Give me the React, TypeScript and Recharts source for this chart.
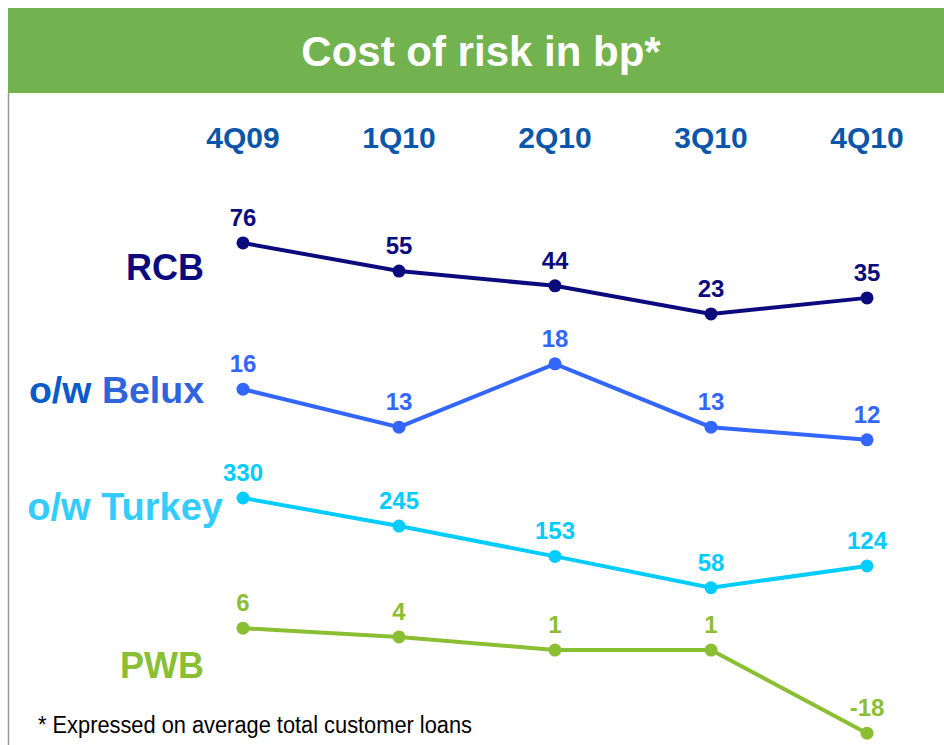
import { LineChart, Line, XAxis, YAxis, LabelList } from 'recharts';

const quarters = ['4Q09', '1Q10', '2Q10', '3Q10', '4Q10'];
const rcb = [76, 55, 44, 23, 35];
const belux = [16, 13, 18, 13, 12];
const turkey = [330, 245, 153, 58, 124];
const pwb = [6, 4, 1, 1, -18];

const data = quarters.map((q, i) => ({
  q,
  rcb: rcb[i],
  belux: belux[i],
  turkey: turkey[i],
  pwb: pwb[i],
}));

const FONT = '"Liberation Sans", Arial, Helvetica, sans-serif';

// each row gets its own hidden y axis so the four lines stack in bands
const series = [
  { key: 'rcb', color: '#0B0B7E', domain: [-298.7, 137.9] },
  { key: 'belux', color: '#3366FF', domain: [-12.1, 34.1] },
  { key: 'turkey', color: '#00CCFF', domain: [-418.5, 1354.2] },
  { key: 'pwb', color: '#8BBF33', domain: [-20.7, 113] },
];

const Decorations = () => (
  <svg width={944} height={745} style={{ position: 'absolute', left: 0, top: 0 }}>
    <rect x={8} y={8} width={936} height={85} fill="#72B24F" />
    <line x1={8.5} y1={93} x2={8.5} y2={745} stroke="#9A9A9A" strokeWidth={1.5} />
    <text x={481} y={66} textAnchor="middle" fill="#fff" fontSize={42} fontWeight={700} fontFamily={FONT}>
      Cost of risk in bp*
    </text>
    <g fontFamily={FONT} fontWeight={700} textAnchor="end">
      <text x={204} y={280} fontSize={36} fill="#0B0B7E">RCB</text>
      <text x={204} y={403} fontSize={37.5}>
        <tspan fill="#0A5BC8">o/w </tspan>
        <tspan fill="#2F64DC">Belux</tspan>
      </text>
      <text x={223} y={520} fontSize={38} fill="#33CCFF">o/w Turkey</text>
      <text x={204} y={678} fontSize={36} fill="#8BBF33">PWB</text>
    </g>
    <text x={38} y={733} fontSize={23} fontFamily={FONT} fill="#000" textLength={434} lengthAdjust="spacingAndGlyphs">
      * Expressed on average total customer loans
    </text>
  </svg>
);

export default function App() {
  return (
    <div style={{ position: 'absolute', left: 0, top: 0, width: 944, height: 745, background: '#fff' }}>
      <Decorations />
      <div style={{ position: 'absolute', left: 0, top: 0 }}>
        <LineChart width={944} height={745} data={data} margin={{ top: 0, right: 77, bottom: 0, left: 243 }}>
          <XAxis
            dataKey="q"
            orientation="top"
            height={160}
            axisLine={false}
            tickLine={false}
            tickSize={0}
            tickMargin={12}
            interval={0}
            tick={{ fill: '#0A56A8', fontSize: 30, fontWeight: 700, fontFamily: FONT }}
          />
          {series.map((s) => (
            <YAxis key={s.key} yAxisId={s.key} type="number" scale="linear" domain={s.domain} allowDataOverflow hide />
          ))}
          {series.map((s) => (
            <Line
              key={s.key}
              yAxisId={s.key}
              dataKey={s.key}
              type="linear"
              stroke={s.color}
              strokeWidth={4}
              dot={{ r: 6.5, fill: s.color, stroke: s.color, strokeWidth: 0 }}
              activeDot={false}
              isAnimationActive={false}
            >
              <LabelList
                dataKey={s.key}
                position="top"
                offset={17}
                fill={s.color}
                fontSize={24}
                fontWeight={700}
                fontFamily={FONT}
              />
            </Line>
          ))}
        </LineChart>
      </div>
    </div>
  );
}
